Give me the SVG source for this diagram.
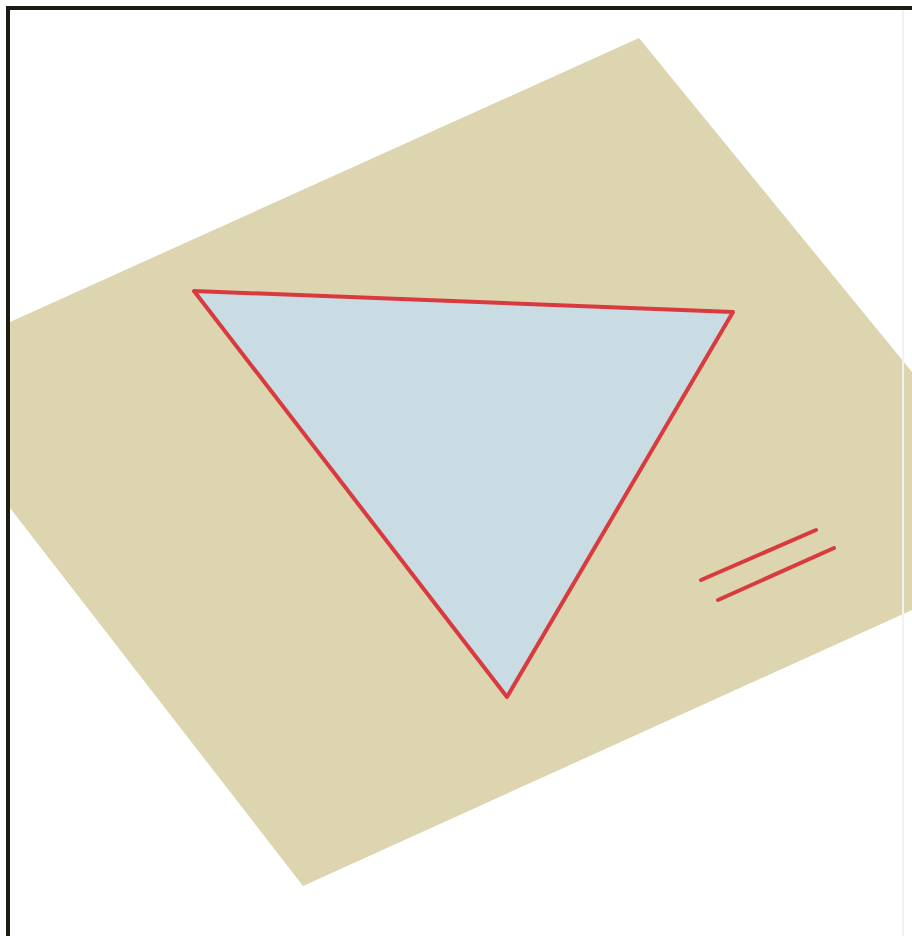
<svg xmlns="http://www.w3.org/2000/svg" width="912" height="936" viewBox="0 0 912 936">
<style>
.red{stroke:#d83a3e;stroke-width:4;fill:none;stroke-linecap:round;stroke-linejoin:round}
</style>
<rect x="0" y="0" width="912" height="936" fill="#ffffff"/>
<g id="plane">
<polygon points="639,38 912,372 912,610 303,886 10,508 10,322" fill="#dcd5b0"/>
</g>
<g id="triangle">
<polygon class="red" points="194,291 733,312 507,697" fill="#c9dce4" style="fill:#c9dce4"/>
</g>
<g id="parallel-mark">
<line class="red" x1="701" y1="580" x2="816" y2="530"/>
<line class="red" x1="718" y1="600" x2="834" y2="548"/>
</g>
<g id="frame">
<path d="M8 936 V8 H912" fill="none" stroke="#1c1c12" stroke-width="4"/>
<line x1="903" y1="10" x2="903" y2="936" stroke="#f2f2f2" stroke-width="2"/>
</g>
</svg>
